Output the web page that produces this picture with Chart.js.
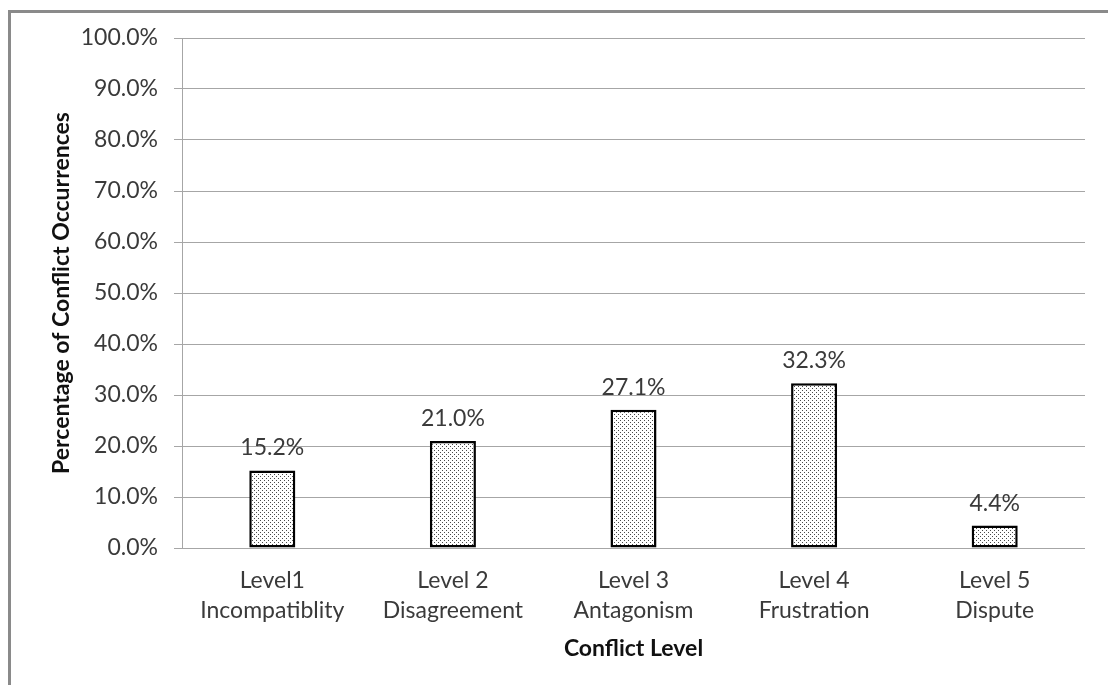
<!DOCTYPE html>
<html>
<head>
<meta charset="utf-8">
<script src="https://cdn.jsdelivr.net/npm/chart.js@4/dist/chart.umd.min.js"></script>
<style>
  html, body { margin: 0; padding: 0; background: #fff; }
  #wrap { width: 1108px; height: 685px; position: relative; }
</style>
</head>
<body>
<div id="wrap"><canvas id="c" width="1108" height="685"></canvas></div>
<script>
// Conflict levels (two-line category labels)
const categories = [
  ["Level1", "Incompatiblity"],
  ["Level 2", "Disagreement"],
  ["Level 3", "Antagonism"],
  ["Level 4", "Frustration"],
  ["Level 5", "Dispute"]
];
// Share of conflict occurrences per level, in percent
const occurrences = [15.2, 21.0, 27.1, 32.3, 4.4];
// Value axis range and step
const yMin = 0;
const yMax = 100;
const yStep = 10;

const FONT = "Lato, 'Open Sans', sans-serif";
const TEXT = "#3a3a3a";

// Light dotted fill for the bars
function dotPattern() {
  const p = document.createElement("canvas");
  p.width = 4; p.height = 4;
  const g = p.getContext("2d");
  g.fillStyle = "#ffffff";
  g.fillRect(0, 0, 4, 4);
  g.fillStyle = "#4a4a4a";
  g.fillRect(0, 0, 1, 1);
  g.fillRect(2, 2, 1, 1);
  const ctx = document.getElementById("c").getContext("2d");
  return ctx.createPattern(p, "repeat");
}

// Outer frame: grey rule along the left and top edges
const framePlugin = {
  id: "frame",
  beforeDraw(chart) {
    const ctx = chart.ctx;
    ctx.save();
    ctx.fillStyle = "#fff";
    ctx.fillRect(0, 0, chart.width, chart.height);
    ctx.strokeStyle = "#8a8a8a";
    ctx.lineWidth = 3;
    ctx.beginPath();
    ctx.moveTo(9.5, chart.height);
    ctx.lineTo(9.5, 11.5);
    ctx.lineTo(chart.width, 11.5);
    ctx.stroke();
    ctx.restore();
  }
};

// Percentage label above each bar
const valueLabels = {
  id: "valueLabels",
  afterDatasetsDraw(chart) {
    const ctx = chart.ctx;
    const meta = chart.getDatasetMeta(0);
    const data = chart.data.datasets[0].data;
    ctx.save();
    ctx.font = "23px " + FONT;
    ctx.fillStyle = TEXT;
    ctx.textAlign = "center";
    ctx.textBaseline = "alphabetic";
    meta.data.forEach((bar, i) => {
      ctx.fillText(data[i].toFixed(1) + "%", bar.x, bar.y - 15);
    });
    ctx.restore();
  }
};

new Chart(document.getElementById("c"), {
  type: "bar",
  data: {
    labels: categories,
    datasets: [{
      data: occurrences,
      backgroundColor: dotPattern(),
      borderColor: "#000",
      borderWidth: 2.5,
      borderSkipped: false,
      barPercentage: 1,
      categoryPercentage: 0.255
    }]
  },
  options: {
    responsive: false,
    animation: false,
    devicePixelRatio: 1,
    layout: { padding: { left: 0, top: 38, right: 23, bottom: 0 } },
    plugins: {
      legend: { display: false },
      tooltip: { enabled: false }
    },
    scales: {
      x: {
        grid: { display: false },
        border: { display: false },
        ticks: {
          color: TEXT,
          padding: 10,
          font: { family: FONT, size: 23, lineHeight: 1.3 }
        },
        title: {
          display: true,
          text: "Conflict Level",
          color: "#111",
          font: { family: FONT, size: 23, weight: "bold", lineHeight: 1.2 },
          padding: { top: 0, bottom: 23 }
        },
        afterFit(scale) { scale.height = 137; }
      },
      y: {
        min: yMin,
        max: yMax,
        ticks: {
          stepSize: yStep,
          color: TEXT,
          padding: 16,
          font: { family: FONT, size: 23 },
          callback: v => v.toFixed(1) + "%"
        },
        grid: { color: "#a6a6a6", lineWidth: 1, tickLength: 8 },
        border: { display: true, color: "#a6a6a6", width: 1 },
        title: {
          display: true,
          text: "Percentage of Conflict Occurrences",
          color: "#111",
          font: { family: FONT, size: 23, weight: "bold", lineHeight: 1.2 },
          padding: { top: 48, bottom: 0 }
        },
        afterFit(scale) { scale.width = 182; }
      }
    }
  },
  plugins: [framePlugin, valueLabels]
});
</script>
</body>
</html>
